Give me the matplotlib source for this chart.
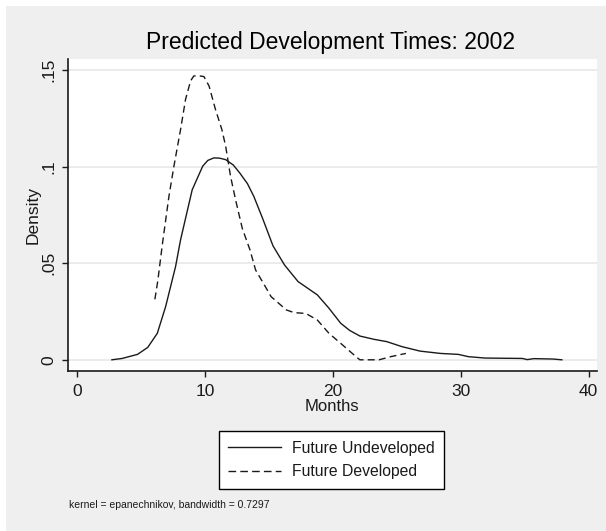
import matplotlib

matplotlib.use("Agg")
import matplotlib.pyplot as plt
from matplotlib import font_manager
from matplotlib.lines import Line2D
from matplotlib.patches import Rectangle


# Kernel density estimates of predicted development time (months)
undeveloped_months = [2.7, 3.5, 4.7, 5.5, 6.25, 6.9, 7.68, 8.07, 8.98, 9.8, 10.2, 10.67, 11.1,
                      11.6, 12.2, 12.7, 13.3, 13.8, 14.5, 15.3, 16.2, 17.26, 18.77, 19.68,
                      20.6, 21.3, 22.1, 23.2, 24.2, 25.4, 26.8, 28.4, 29.8, 30.6, 31.9, 34.8,
                      35.2, 35.7, 37.2, 37.9]
undeveloped_density = [0.0, 0.0007, 0.0028, 0.0064, 0.0137, 0.0275, 0.0483, 0.0621, 0.088,
                       0.1002, 0.1032, 0.1045, 0.1044, 0.1036, 0.1008, 0.0967, 0.0912, 0.0846,
                       0.073, 0.059, 0.0491, 0.0405, 0.0336, 0.0267, 0.0189, 0.0152, 0.0123,
                       0.0106, 0.0094, 0.0068, 0.0045, 0.0033, 0.0028, 0.0016, 0.0009, 0.0007,
                       0.0001, 0.0006, 0.0004, 0.0]

developed_months = [6.06, 6.3, 6.64, 7.16, 7.55, 8.07, 8.46, 8.85, 9.1, 9.5, 9.9, 10.3, 10.8,
                    11.3, 11.6, 11.98, 12.37, 12.9, 13.5, 13.94, 14.7, 15.15, 16.35, 16.96,
                    17.87, 18.77, 19.68, 20.6, 21.8, 22.1, 23.6, 24.5, 25.7]
developed_density = [0.0313, 0.0414, 0.0595, 0.0846, 0.1002, 0.1192, 0.1348, 0.1443, 0.1469,
                     0.147, 0.1466, 0.1417, 0.1296, 0.1192, 0.1105, 0.095, 0.0829, 0.068,
                     0.0569, 0.0465, 0.0379, 0.0327, 0.0258, 0.0244, 0.024, 0.0206, 0.0137,
                     0.0085, 0.0016, 0.0, 0.0, 0.0016, 0.0033]

series_labels = ["Future Undeveloped", "Future Developed"]
y_ticks = [0, 0.05, 0.1, 0.15]
y_tick_labels = ["0", ".05", ".1", ".15"]
x_ticks = [0, 10, 20, 30, 40]

W, H = 606, 531
BG = "#efefef"
INK = "#1a1a1a"
GRID = "#e6e6e6"
DASH = (0, (5, 3))


def pick_family() -> str:
    names = {f.name for f in font_manager.fontManager.ttflist}
    for name in ("Liberation Sans Narrow", "Liberation Sans", "Arial"):
        if name in names:
            return name
    return "DejaVu Sans"


plt.rcParams["font.family"] = pick_family()

fig = plt.figure(figsize=(W / 100, H / 100), dpi=100, facecolor="white")
fig.patches.append(Rectangle((6 / W, 0), 1, 1 - 6 / H, transform=fig.transFigure,
                             facecolor=BG, edgecolor="none", zorder=-10))

ax = fig.add_axes([67.7 / W, (H - 371) / H, (597 - 67.7) / W, (371 - 59) / H])
ax.set_facecolor("white")

ax.plot(undeveloped_months, undeveloped_density, color=INK, linewidth=1.0)
ax.plot(developed_months, developed_density, color=INK, linewidth=1.0, linestyle=DASH)

ax.set_xlim(-0.76, 40.65)
ax.set_ylim(-0.0058, 0.1557)
ax.set_xticks(x_ticks, [str(v) for v in x_ticks])
ax.set_yticks(y_ticks, y_tick_labels)
ax.tick_params(axis="x", length=4.2, width=1.0, color=INK, pad=5, labelsize=12.5, labelcolor=INK)
ax.tick_params(axis="y", length=4, width=1.0, color=INK, pad=4, labelsize=12.5, labelcolor=INK,
               labelrotation=90)
for lab in ax.get_yticklabels():
    lab.set_va("center")

ax.grid(axis="y", color=GRID, linewidth=1.1)
ax.set_axisbelow(True)
for side in ("top", "right"):
    ax.spines[side].set_visible(False)
for side in ("left", "bottom"):
    ax.spines[side].set_color(INK)
    ax.spines[side].set_linewidth(1.2)

ax.set_xlabel("Months", fontsize=12, color=INK, labelpad=0)
ax.set_ylabel("Density", fontsize=12.5, color=INK, labelpad=1)

fig.text(331 / W, 1 - 42 / H, "Predicted Development Times: 2002", fontsize=16.5,
         ha="center", va="center", color="black")

handles = [Line2D([], [], color=INK, linewidth=1.0),
           Line2D([], [], color=INK, linewidth=1.0, linestyle=(0, (5.5, 3)))]
leg = fig.legend(handles, series_labels, loc="center", bbox_to_anchor=(331.5 / W, 1 - 460 / H),
                 fontsize=11.3, frameon=True, fancybox=False, edgecolor="black",
                 facecolor="white", framealpha=1, handlelength=3.4, handletextpad=0.7,
                 borderpad=0.6, labelspacing=0.55, borderaxespad=0)
leg.get_frame().set_linewidth(1.0)
for t in leg.get_texts():
    t.set_color(INK)

fig.text(69 / W, 1 - 505 / H, "kernel = epanechnikov, bandwidth = 0.7297", fontsize=7.5,
         ha="left", va="center", color=INK)

fig.savefig("out.png", dpi=100, facecolor=fig.get_facecolor())
